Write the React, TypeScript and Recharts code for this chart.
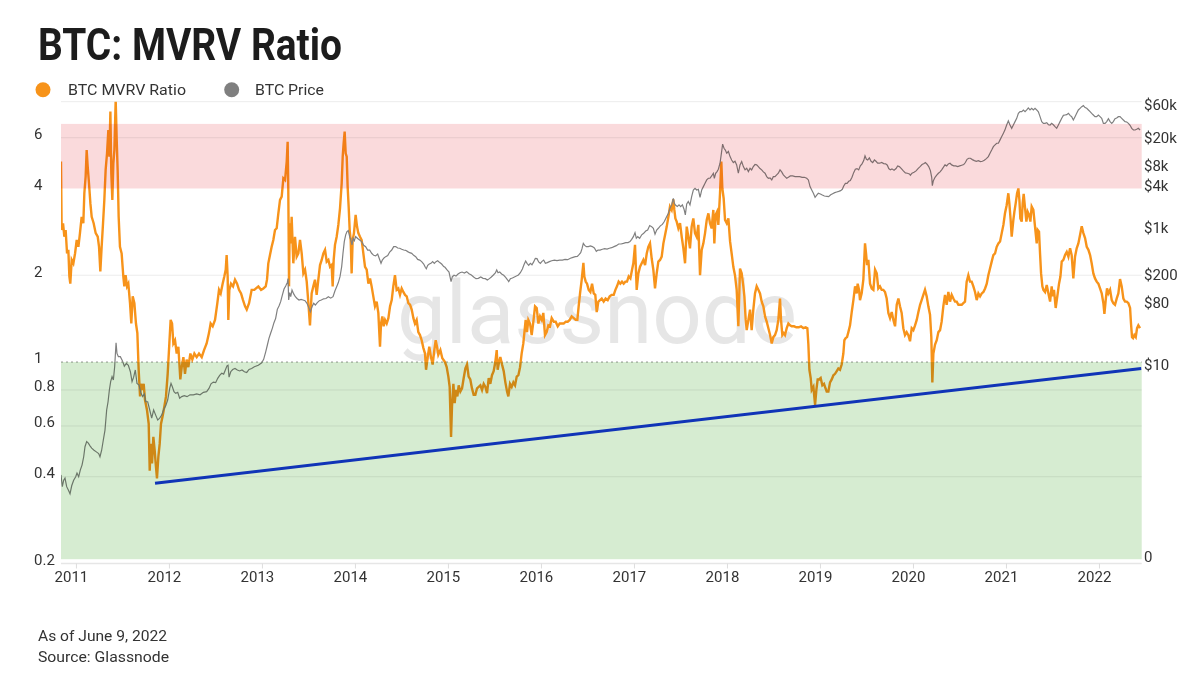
import React from 'react';
import { ComposedChart, Line, XAxis, YAxis, ReferenceArea, ReferenceLine } from 'recharts';

const FONT = 'Roboto, "Open Sans", sans-serif';

const yearTicks = [2011, 2012, 2013, 2014, 2015, 2016, 2017, 2018, 2019, 2020, 2021, 2022];
const ratioTicks = [0.2, 0.4, 0.6, 0.8, 1, 2, 4, 6];
const ratioGrid = [8, 6, 2, 0.8, 0.6, 0.4];
const priceTicks = [0.0161, 10, 80, 200, 1000, 4000, 8000, 20000, 60000];
const priceLabels = ['0', '$10', '$80', '$200', '$1k', '$4k', '$8k', '$20k', '$60k'];

// [year, MVRV]
const mvrvPoints: [number, number][] = [
  [2010.834, 4.96], [2010.841, 2.87], [2010.856, 3.03], [2010.87, 2.72], [2010.884, 2.87], [2010.899, 2.38],
  [2010.913, 2.45], [2010.924, 1.98], [2010.934, 1.87], [2010.949, 2.26], [2010.967, 2.2], [2010.985, 2.38],
  [2011.003, 2.65], [2011.021, 2.51], [2011.038, 2.8], [2011.056, 3.19], [2011.074, 3.03], [2011.085, 3.85],
  [2011.099, 4.4], [2011.11, 5.44], [2011.121, 4.76], [2011.135, 4.17], [2011.15, 3.55], [2011.164, 3.19],
  [2011.185, 3.03], [2011.207, 2.8], [2011.229, 2.72], [2011.243, 2.51], [2011.257, 2.06], [2011.271, 2.51],
  [2011.286, 3.03], [2011.3, 3.65], [2011.314, 4.64], [2011.329, 5.3], [2011.343, 6.38], [2011.354, 5.16],
  [2011.365, 7.39], [2011.375, 4.51], [2011.386, 3.65], [2011.397, 4.89], [2011.408, 5.44], [2011.422, 8.11],
  [2011.433, 5.89], [2011.443, 4.64], [2011.454, 3.19], [2011.468, 2.51], [2011.486, 2.38], [2011.504, 1.98],
  [2011.515, 1.83], [2011.529, 2.0], [2011.544, 1.83], [2011.558, 1.87], [2011.576, 1.6], [2011.59, 1.36],
  [2011.605, 1.69], [2011.623, 1.6], [2011.64, 1.36], [2011.655, 1.26], [2011.669, 0.94], [2011.684, 0.76],
  [2011.694, 0.84], [2011.709, 0.8], [2011.723, 0.84], [2011.737, 0.74], [2011.759, 0.68], [2011.777, 0.61],
  [2011.788, 0.42], [2011.798, 0.52], [2011.813, 0.445], [2011.827, 0.55], [2011.841, 0.495], [2011.852, 0.445],
  [2011.866, 0.395], [2011.881, 0.47], [2011.895, 0.52], [2011.909, 0.61], [2011.927, 0.65], [2011.945, 0.7],
  [2011.963, 0.76], [2011.981, 0.91], [2011.999, 1.16], [2012.013, 1.4], [2012.028, 1.36], [2012.042, 1.16],
  [2012.06, 1.19], [2012.078, 1.07], [2012.096, 1.13], [2012.117, 0.87], [2012.132, 0.96], [2012.15, 1.04],
  [2012.167, 0.91], [2012.185, 1.02], [2012.203, 0.96], [2012.225, 1.07], [2012.246, 1.02], [2012.268, 1.07],
  [2012.293, 1.04], [2012.318, 1.07], [2012.347, 1.04], [2012.372, 1.1], [2012.4, 1.16], [2012.425, 1.26],
  [2012.443, 1.36], [2012.465, 1.33], [2012.49, 1.4], [2012.515, 1.6], [2012.533, 1.78], [2012.551, 1.73],
  [2012.572, 1.87], [2012.59, 1.98], [2012.605, 2.09], [2012.615, 2.35], [2012.626, 1.98], [2012.633, 1.4],
  [2012.644, 1.78], [2012.662, 1.87], [2012.684, 1.83], [2012.705, 1.93], [2012.727, 1.87], [2012.748, 1.78],
  [2012.77, 1.73], [2012.791, 1.64], [2012.813, 1.56], [2012.831, 1.52], [2012.856, 1.6], [2012.884, 1.78],
  [2012.913, 1.78], [2012.956, 1.83], [2012.985, 1.78], [2013.01, 1.8], [2013.035, 1.83], [2013.049, 1.93],
  [2013.063, 2.2], [2013.081, 2.35], [2013.099, 2.51], [2013.117, 2.65], [2013.135, 2.87], [2013.153, 2.91],
  [2013.171, 3.28], [2013.189, 3.65], [2013.207, 3.75], [2013.225, 4.34], [2013.243, 4.28], [2013.261, 4.96],
  [2013.271, 5.81], [2013.278, 3.95], [2013.286, 1.83], [2013.293, 3.03], [2013.304, 2.58], [2013.314, 3.19],
  [2013.332, 2.2], [2013.35, 2.72], [2013.368, 2.32], [2013.386, 2.38], [2013.404, 2.65], [2013.422, 2.38],
  [2013.44, 2.03], [2013.458, 2.09], [2013.476, 1.9], [2013.494, 1.6], [2013.511, 1.34], [2013.529, 1.73],
  [2013.547, 1.83], [2013.565, 1.93], [2013.583, 1.71], [2013.601, 1.93], [2013.619, 2.17], [2013.637, 2.26],
  [2013.655, 2.38], [2013.673, 2.45], [2013.691, 2.23], [2013.709, 2.26], [2013.727, 2.14], [2013.744, 2.17],
  [2013.755, 1.83], [2013.766, 2.26], [2013.78, 2.55], [2013.798, 2.72], [2013.816, 2.99], [2013.834, 3.41],
  [2013.852, 4.17], [2013.863, 5.16], [2013.873, 5.74], [2013.884, 6.3], [2013.895, 5.3], [2013.906, 5.16],
  [2013.916, 4.06], [2013.927, 3.46], [2013.938, 2.87], [2013.949, 2.65], [2013.959, 2.03], [2013.97, 2.65],
  [2013.984, 2.8], [2014.002, 3.24], [2014.017, 2.95], [2014.031, 2.8], [2014.049, 2.72], [2014.067, 2.65],
  [2014.085, 2.38], [2014.103, 2.14], [2014.121, 2.09], [2014.139, 1.87], [2014.157, 1.95], [2014.174, 1.83],
  [2014.192, 1.69], [2014.21, 1.56], [2014.228, 1.62], [2014.246, 1.48], [2014.264, 1.13], [2014.275, 1.36],
  [2014.289, 1.44], [2014.303, 1.33], [2014.318, 1.4], [2014.336, 1.36], [2014.354, 1.42], [2014.372, 1.56],
  [2014.39, 1.64], [2014.407, 1.83], [2014.425, 2.0], [2014.443, 1.78], [2014.461, 1.8], [2014.479, 1.71],
  [2014.497, 1.8], [2014.515, 1.75], [2014.533, 1.71], [2014.551, 1.69], [2014.569, 1.6], [2014.587, 1.58],
  [2014.605, 1.52], [2014.623, 1.42], [2014.64, 1.36], [2014.658, 1.4], [2014.676, 1.27], [2014.694, 1.24],
  [2014.712, 1.19], [2014.73, 1.12], [2014.748, 1.07], [2014.759, 0.94], [2014.777, 1.04], [2014.794, 1.13],
  [2014.812, 1.04], [2014.83, 0.98], [2014.848, 1.1], [2014.863, 1.19], [2014.877, 1.13], [2014.891, 1.06],
  [2014.913, 1.1], [2014.934, 1.03], [2014.963, 1.0], [2014.981, 0.96], [2014.999, 0.89], [2015.013, 0.82],
  [2015.028, 0.55], [2015.038, 0.7], [2015.053, 0.84], [2015.067, 0.72], [2015.081, 0.8], [2015.096, 0.76],
  [2015.11, 0.83], [2015.128, 0.79], [2015.146, 0.81], [2015.164, 0.88], [2015.182, 0.95], [2015.2, 0.98],
  [2015.217, 0.89], [2015.235, 0.87], [2015.253, 0.81], [2015.271, 0.77], [2015.289, 0.77], [2015.307, 0.81],
  [2015.325, 0.82], [2015.343, 0.83], [2015.361, 0.8], [2015.379, 0.84], [2015.397, 0.82], [2015.415, 0.78],
  [2015.433, 0.88], [2015.45, 0.84], [2015.468, 0.9], [2015.486, 0.93], [2015.504, 1.0], [2015.519, 1.1],
  [2015.529, 0.94], [2015.544, 1.0], [2015.558, 1.04], [2015.576, 0.98], [2015.594, 0.93], [2015.612, 0.85],
  [2015.63, 0.79], [2015.644, 0.76], [2015.662, 0.84], [2015.68, 0.82], [2015.698, 0.85], [2015.716, 0.83],
  [2015.734, 0.89], [2015.752, 0.9], [2015.77, 0.96], [2015.787, 1.07], [2015.805, 1.16], [2015.816, 1.26],
  [2015.83, 1.4], [2015.845, 1.27], [2015.859, 1.4], [2015.877, 1.36], [2015.895, 1.24], [2015.913, 1.38],
  [2015.931, 1.56], [2015.949, 1.54], [2015.967, 1.36], [2015.985, 1.44], [2016.003, 1.4], [2016.02, 1.48],
  [2016.038, 1.24], [2016.056, 1.27], [2016.074, 1.34], [2016.092, 1.33], [2016.11, 1.42], [2016.132, 1.38],
  [2016.153, 1.38], [2016.175, 1.33], [2016.196, 1.36], [2016.218, 1.36], [2016.239, 1.36], [2016.261, 1.38],
  [2016.282, 1.38], [2016.304, 1.4], [2016.325, 1.44], [2016.347, 1.42], [2016.368, 1.4], [2016.386, 1.4],
  [2016.4, 1.56], [2016.415, 1.73], [2016.433, 1.93], [2016.451, 2.21], [2016.461, 1.98], [2016.476, 1.9],
  [2016.49, 1.87], [2016.508, 1.78], [2016.526, 1.75], [2016.544, 1.87], [2016.562, 1.73], [2016.579, 1.71],
  [2016.594, 1.49], [2016.612, 1.62], [2016.63, 1.64], [2016.648, 1.66], [2016.669, 1.62], [2016.69, 1.66],
  [2016.712, 1.64], [2016.734, 1.69], [2016.755, 1.71], [2016.777, 1.71], [2016.795, 1.78], [2016.812, 1.83],
  [2016.83, 1.9], [2016.848, 1.87], [2016.866, 1.9], [2016.884, 1.87], [2016.902, 1.9], [2016.92, 1.9],
  [2016.938, 1.98], [2016.956, 1.95], [2016.974, 2.09], [2016.988, 2.2], [2017.006, 2.55], [2017.024, 1.78],
  [2017.042, 2.03], [2017.06, 2.14], [2017.078, 2.2], [2017.096, 2.26], [2017.114, 2.17], [2017.132, 2.38],
  [2017.149, 2.51], [2017.167, 2.58], [2017.185, 2.29], [2017.203, 2.09], [2017.221, 1.8], [2017.239, 2.03],
  [2017.257, 2.23], [2017.275, 2.26], [2017.293, 2.32], [2017.311, 2.58], [2017.329, 2.76], [2017.347, 2.95],
  [2017.365, 3.19], [2017.382, 3.46], [2017.4, 3.37], [2017.418, 3.67], [2017.429, 3.37], [2017.44, 3.15],
  [2017.454, 3.07], [2017.472, 2.91], [2017.49, 3.03], [2017.508, 2.72], [2017.526, 2.48], [2017.544, 2.2],
  [2017.562, 2.95], [2017.579, 2.72], [2017.597, 2.48], [2017.615, 2.95], [2017.633, 3.15], [2017.651, 2.8],
  [2017.669, 2.72], [2017.687, 2.99], [2017.705, 2.0], [2017.723, 2.45], [2017.741, 2.58], [2017.759, 2.8],
  [2017.777, 3.11], [2017.795, 3.28], [2017.812, 3.03], [2017.83, 2.91], [2017.848, 3.37], [2017.859, 2.58],
  [2017.873, 3.24], [2017.888, 3.32], [2017.902, 2.99], [2017.92, 3.85], [2017.934, 4.96], [2017.945, 4.0],
  [2017.959, 3.7], [2017.974, 3.11], [2017.992, 3.03], [2018.01, 3.15], [2018.028, 2.62], [2018.045, 2.38],
  [2018.063, 2.14], [2018.081, 2.0], [2018.099, 1.78], [2018.117, 1.33], [2018.135, 2.11], [2018.153, 2.03],
  [2018.171, 1.83], [2018.182, 1.69], [2018.196, 1.4], [2018.207, 1.29], [2018.225, 1.4], [2018.243, 1.52],
  [2018.26, 1.29], [2018.278, 1.52], [2018.296, 1.73], [2018.314, 1.83], [2018.332, 1.78], [2018.35, 1.73],
  [2018.368, 1.62], [2018.386, 1.56], [2018.404, 1.44], [2018.422, 1.38], [2018.44, 1.31], [2018.458, 1.24],
  [2018.476, 1.16], [2018.493, 1.22], [2018.511, 1.24], [2018.529, 1.29], [2018.547, 1.4], [2018.565, 1.66],
  [2018.576, 1.4], [2018.59, 1.24], [2018.605, 1.26], [2018.619, 1.24], [2018.637, 1.31], [2018.655, 1.36],
  [2018.673, 1.34], [2018.691, 1.33], [2018.716, 1.33], [2018.741, 1.32], [2018.766, 1.32], [2018.791, 1.33],
  [2018.816, 1.31], [2018.841, 1.32], [2018.859, 1.31], [2018.87, 1.15], [2018.881, 0.94], [2018.895, 0.88],
  [2018.906, 0.8], [2018.924, 0.82], [2018.942, 0.71], [2018.956, 0.8], [2018.97, 0.87], [2018.984, 0.87],
  [2019.002, 0.88], [2019.02, 0.83], [2019.038, 0.84], [2019.049, 0.82], [2019.067, 0.79], [2019.085, 0.79],
  [2019.103, 0.85], [2019.121, 0.87], [2019.139, 0.9], [2019.157, 0.91], [2019.175, 0.93], [2019.192, 0.95],
  [2019.21, 0.94], [2019.228, 0.98], [2019.246, 1.07], [2019.257, 1.19], [2019.271, 1.21], [2019.286, 1.22],
  [2019.3, 1.27], [2019.318, 1.34], [2019.336, 1.49], [2019.354, 1.64], [2019.372, 1.83], [2019.39, 1.73],
  [2019.4, 1.87], [2019.415, 1.78], [2019.425, 1.64], [2019.443, 1.73], [2019.461, 1.93], [2019.479, 2.58],
  [2019.49, 2.38], [2019.501, 2.17], [2019.515, 2.26], [2019.533, 1.87], [2019.551, 1.8], [2019.569, 1.78],
  [2019.587, 2.09], [2019.605, 2.03], [2019.622, 1.8], [2019.64, 1.83], [2019.658, 1.78], [2019.676, 1.78],
  [2019.694, 1.75], [2019.712, 1.66], [2019.73, 1.48], [2019.748, 1.42], [2019.766, 1.49], [2019.784, 1.4],
  [2019.802, 1.33], [2019.82, 1.58], [2019.838, 1.66], [2019.855, 1.56], [2019.873, 1.48], [2019.891, 1.31],
  [2019.909, 1.24], [2019.927, 1.27], [2019.945, 1.24], [2019.963, 1.18], [2019.981, 1.31], [2019.999, 1.29],
  [2020.017, 1.34], [2020.035, 1.4], [2020.053, 1.49], [2020.071, 1.58], [2020.088, 1.64], [2020.106, 1.71],
  [2020.124, 1.78], [2020.142, 1.69], [2020.16, 1.56], [2020.178, 1.46], [2020.192, 1.22], [2020.203, 0.85],
  [2020.214, 1.07], [2020.232, 1.15], [2020.25, 1.19], [2020.268, 1.27], [2020.286, 1.29], [2020.303, 1.38],
  [2020.321, 1.56], [2020.339, 1.71], [2020.357, 1.58], [2020.375, 1.75], [2020.393, 1.62], [2020.411, 1.71],
  [2020.429, 1.66], [2020.447, 1.62], [2020.465, 1.62], [2020.483, 1.58], [2020.501, 1.58], [2020.519, 1.58],
  [2020.536, 1.6], [2020.554, 1.62], [2020.572, 1.9], [2020.59, 2.0], [2020.608, 1.9], [2020.626, 1.9],
  [2020.644, 1.83], [2020.662, 1.75], [2020.68, 1.64], [2020.698, 1.73], [2020.716, 1.69], [2020.734, 1.73],
  [2020.752, 1.75], [2020.77, 1.8], [2020.788, 1.87], [2020.805, 2.0], [2020.823, 2.11], [2020.841, 2.23],
  [2020.859, 2.35], [2020.877, 2.38], [2020.895, 2.51], [2020.913, 2.58], [2020.931, 2.62], [2020.949, 2.8],
  [2020.967, 2.99], [2020.984, 3.28], [2021.002, 3.5], [2021.02, 3.85], [2021.031, 3.55], [2021.045, 3.11],
  [2021.056, 2.72], [2021.074, 3.11], [2021.085, 3.32], [2021.099, 3.55], [2021.114, 3.85], [2021.128, 4.0],
  [2021.139, 3.65], [2021.149, 3.15], [2021.164, 3.07], [2021.174, 3.55], [2021.185, 3.83], [2021.2, 3.41],
  [2021.214, 3.07], [2021.228, 3.32], [2021.243, 3.24], [2021.257, 3.07], [2021.271, 3.46], [2021.289, 3.37],
  [2021.307, 2.95], [2021.325, 2.58], [2021.336, 2.87], [2021.35, 2.83], [2021.361, 2.38], [2021.372, 2.03],
  [2021.386, 1.83], [2021.397, 1.78], [2021.415, 1.75], [2021.433, 1.85], [2021.451, 1.73], [2021.469, 1.62],
  [2021.486, 1.83], [2021.497, 1.69], [2021.511, 1.78], [2021.529, 1.54], [2021.551, 1.73], [2021.565, 1.87],
  [2021.58, 1.98], [2021.594, 2.23], [2021.612, 2.26], [2021.63, 2.35], [2021.648, 2.41], [2021.666, 2.32],
  [2021.684, 2.48], [2021.701, 2.35], [2021.719, 1.95], [2021.737, 2.32], [2021.755, 2.48], [2021.773, 2.58],
  [2021.791, 2.76], [2021.809, 2.96], [2021.827, 2.8], [2021.845, 2.69], [2021.863, 2.51], [2021.881, 2.45],
  [2021.899, 2.35], [2021.916, 2.2], [2021.934, 2.03], [2021.952, 1.95], [2021.97, 1.9], [2021.988, 1.87],
  [2022.006, 1.8], [2022.024, 1.73], [2022.042, 1.6], [2022.053, 1.47], [2022.067, 1.64], [2022.081, 1.8],
  [2022.096, 1.73], [2022.114, 1.78], [2022.132, 1.64], [2022.149, 1.6], [2022.167, 1.58], [2022.185, 1.66],
  [2022.203, 1.73], [2022.221, 1.94], [2022.239, 1.83], [2022.257, 1.66], [2022.275, 1.62], [2022.293, 1.62],
  [2022.311, 1.6], [2022.329, 1.54], [2022.339, 1.36], [2022.35, 1.22], [2022.361, 1.21], [2022.375, 1.24],
  [2022.39, 1.22], [2022.404, 1.31], [2022.418, 1.34], [2022.436, 1.31],
];

// [year, BTC price in USD]
const pricePoints: [number, number][] = [
  [2010.834, 0.245], [2010.848, 0.165], [2010.863, 0.205], [2010.877, 0.22], [2010.895, 0.165], [2010.913, 0.148],
  [2010.931, 0.13], [2010.949, 0.17], [2010.97, 0.205], [2010.992, 0.23], [2011.006, 0.26], [2011.024, 0.23],
  [2011.042, 0.29], [2011.06, 0.34], [2011.078, 0.45], [2011.092, 0.63], [2011.11, 0.75], [2011.128, 0.71],
  [2011.146, 0.65], [2011.164, 0.6], [2011.189, 0.56], [2011.214, 0.53], [2011.239, 0.5], [2011.253, 0.45],
  [2011.271, 0.56], [2011.289, 0.79], [2011.307, 1.1], [2011.325, 2.16], [2011.34, 2.85], [2011.354, 4.22],
  [2011.368, 5.6], [2011.383, 6.6], [2011.397, 5.9], [2011.411, 9.2], [2011.426, 20.6], [2011.436, 14.4],
  [2011.451, 12.9], [2011.472, 12.9], [2011.494, 11.3], [2011.515, 9.4], [2011.537, 10.3], [2011.558, 9.7],
  [2011.58, 7.8], [2011.598, 5.6], [2011.615, 6.5], [2011.633, 8.26], [2011.651, 5.28], [2011.673, 5.0],
  [2011.694, 3.78], [2011.712, 3.38], [2011.73, 3.7], [2011.745, 2.85], [2011.766, 2.85], [2011.788, 2.16],
  [2011.809, 1.64], [2011.83, 2.16], [2011.852, 1.82], [2011.874, 1.54], [2011.895, 1.64], [2011.917, 1.82],
  [2011.938, 2.2], [2011.96, 2.5], [2011.981, 3.02], [2012.003, 4.45], [2012.017, 5.28], [2012.031, 4.72],
  [2012.049, 4.0], [2012.067, 3.78], [2012.089, 3.9], [2012.11, 3.2], [2012.132, 3.38], [2012.16, 3.5],
  [2012.189, 3.38], [2012.221, 3.6], [2012.257, 3.58], [2012.293, 3.7], [2012.329, 3.6], [2012.365, 3.9],
  [2012.4, 4.0], [2012.425, 4.45], [2012.447, 5.2], [2012.472, 5.5], [2012.497, 5.4], [2012.519, 6.25],
  [2012.54, 6.9], [2012.562, 7.4], [2012.583, 7.2], [2012.601, 8.26], [2012.619, 9.5], [2012.63, 9.7],
  [2012.641, 6.5], [2012.659, 7.8], [2012.68, 8.4], [2012.705, 8.7], [2012.73, 8.26], [2012.755, 8.0],
  [2012.78, 8.26], [2012.806, 7.8], [2012.831, 7.6], [2012.856, 8.4], [2012.884, 8.7], [2012.913, 9.2],
  [2012.956, 9.7], [2012.992, 10.5], [2013.013, 11.8], [2013.035, 15.2], [2013.053, 19.1], [2013.07, 23.9],
  [2013.088, 28.3], [2013.106, 33.4], [2013.124, 40.4], [2013.142, 46.7], [2013.16, 63.2], [2013.178, 70.6],
  [2013.196, 81.7], [2013.214, 102], [2013.232, 125], [2013.25, 138], [2013.268, 156], [2013.275, 177],
  [2013.282, 86.4], [2013.293, 111], [2013.304, 96.6], [2013.318, 121], [2013.336, 106], [2013.354, 96.6],
  [2013.372, 91], [2013.393, 86.4], [2013.415, 88], [2013.436, 86.4], [2013.458, 84.5], [2013.479, 77.3],
  [2013.497, 67.5], [2013.515, 58.4], [2013.533, 69], [2013.551, 77.3], [2013.569, 73], [2013.59, 79],
  [2013.612, 84.5], [2013.633, 86.4], [2013.658, 90], [2013.683, 91], [2013.709, 96.6], [2013.734, 92],
  [2013.759, 96.6], [2013.78, 118], [2013.798, 135], [2013.816, 155], [2013.834, 189], [2013.852, 265],
  [2013.866, 414], [2013.88, 612], [2013.895, 770], [2013.909, 857], [2013.923, 886], [2013.938, 723],
  [2013.952, 633], [2013.963, 548], [2013.974, 685], [2013.988, 633], [2014.002, 723], [2014.024, 680],
  [2014.045, 646], [2014.067, 612], [2014.088, 540], [2014.11, 518], [2014.131, 462], [2014.153, 462],
  [2014.174, 414], [2014.196, 387], [2014.217, 380], [2014.239, 404], [2014.26, 337], [2014.275, 296],
  [2014.289, 330], [2014.307, 354], [2014.325, 370], [2014.347, 383], [2014.368, 432], [2014.39, 462],
  [2014.411, 518], [2014.433, 518], [2014.454, 494], [2014.476, 490], [2014.497, 474], [2014.519, 462],
  [2014.54, 457], [2014.562, 438], [2014.583, 423], [2014.605, 414], [2014.626, 387], [2014.648, 370],
  [2014.669, 337], [2014.691, 330], [2014.712, 313], [2014.734, 289], [2014.751, 259], [2014.762, 247],
  [2014.777, 276], [2014.794, 289], [2014.812, 296], [2014.83, 313], [2014.848, 296], [2014.866, 313],
  [2014.884, 323], [2014.906, 303], [2014.927, 289], [2014.949, 265], [2014.963, 259], [2014.985, 237],
  [2015.006, 221], [2015.028, 160], [2015.042, 189], [2015.06, 198], [2015.081, 193], [2015.103, 207],
  [2015.124, 216], [2015.146, 221], [2015.171, 214], [2015.196, 224], [2015.221, 209], [2015.246, 200],
  [2015.271, 187], [2015.296, 177], [2015.321, 179], [2015.347, 187], [2015.372, 179], [2015.397, 177],
  [2015.418, 169], [2015.44, 177], [2015.461, 187], [2015.483, 200], [2015.504, 214], [2015.519, 237],
  [2015.533, 216], [2015.551, 221], [2015.572, 207], [2015.594, 198], [2015.615, 185], [2015.637, 169],
  [2015.648, 160], [2015.666, 177], [2015.687, 181], [2015.709, 187], [2015.73, 193], [2015.752, 200],
  [2015.773, 216], [2015.795, 245], [2015.812, 282], [2015.83, 320], [2015.845, 296], [2015.863, 276],
  [2015.88, 296], [2015.898, 282], [2015.916, 310], [2015.934, 350], [2015.952, 346], [2015.97, 310],
  [2015.988, 296], [2016.006, 316], [2016.024, 330], [2016.042, 296], [2016.063, 303], [2016.085, 313],
  [2016.11, 323], [2016.139, 330], [2016.167, 323], [2016.196, 330], [2016.225, 330], [2016.253, 337],
  [2016.282, 334], [2016.311, 350], [2016.339, 361], [2016.364, 370], [2016.386, 374], [2016.404, 395],
  [2016.422, 423], [2016.436, 483], [2016.45, 578], [2016.465, 540], [2016.483, 518], [2016.504, 518],
  [2016.526, 530], [2016.547, 518], [2016.569, 494], [2016.59, 443], [2016.608, 462], [2016.63, 462],
  [2016.655, 474], [2016.68, 483], [2016.705, 478], [2016.73, 490], [2016.755, 500], [2016.78, 518],
  [2016.805, 535], [2016.83, 566], [2016.856, 566], [2016.881, 578], [2016.906, 592], [2016.931, 592],
  [2016.952, 612], [2016.97, 660], [2016.988, 723], [2017.006, 827], [2017.02, 685], [2017.035, 723],
  [2017.056, 685], [2017.078, 770], [2017.099, 810], [2017.121, 875], [2017.142, 905], [2017.164, 1050],
  [2017.185, 1013], [2017.203, 958], [2017.221, 786], [2017.239, 905], [2017.257, 958], [2017.278, 1040],
  [2017.3, 1090], [2017.321, 1200], [2017.343, 1390], [2017.365, 1587], [2017.382, 1877], [2017.4, 2099],
  [2017.418, 2610], [2017.429, 2214], [2017.443, 2075], [2017.461, 1986], [2017.479, 2099], [2017.497, 1986],
  [2017.515, 2099], [2017.533, 1815], [2017.547, 1500], [2017.562, 2165], [2017.579, 2354], [2017.597, 2099],
  [2017.615, 2770], [2017.633, 3460], [2017.651, 3660], [2017.669, 3460], [2017.687, 3530], [2017.705, 2710],
  [2017.723, 3460], [2017.741, 3875], [2017.759, 4330], [2017.777, 4850], [2017.795, 5130], [2017.812, 5130],
  [2017.83, 5540], [2017.848, 6070], [2017.859, 5130], [2017.873, 6070], [2017.888, 6420], [2017.902, 6950],
  [2017.92, 8500], [2017.934, 11600], [2017.948, 16100], [2017.963, 14050], [2017.977, 13200], [2017.992, 11900],
  [2018.01, 12600], [2018.028, 10600], [2018.045, 9480], [2018.063, 8700], [2018.081, 9070], [2018.099, 8030],
  [2018.117, 6070], [2018.135, 8030], [2018.153, 8970], [2018.171, 7590], [2018.189, 6800], [2018.207, 7180],
  [2018.225, 6420], [2018.243, 7180], [2018.26, 6800], [2018.278, 7590], [2018.296, 8130], [2018.314, 8030],
  [2018.332, 7590], [2018.35, 7100], [2018.368, 6800], [2018.386, 6350], [2018.404, 6070], [2018.422, 5420],
  [2018.44, 5130], [2018.458, 5180], [2018.476, 4850], [2018.493, 5420], [2018.511, 5420], [2018.529, 5740],
  [2018.547, 6070], [2018.565, 6800], [2018.583, 6350], [2018.601, 5740], [2018.619, 5420], [2018.637, 5130],
  [2018.655, 5300], [2018.676, 5540], [2018.701, 5540], [2018.727, 5420], [2018.752, 5420], [2018.777, 5420],
  [2018.802, 5300], [2018.827, 5300], [2018.852, 5130], [2018.87, 4850], [2018.888, 3875], [2018.906, 3460],
  [2018.924, 3100], [2018.942, 2710], [2018.96, 2920], [2018.977, 3100], [2018.999, 3030], [2019.02, 2920],
  [2019.042, 2830], [2019.071, 2800], [2019.088, 2770], [2019.11, 2950], [2019.131, 3060], [2019.153, 3170],
  [2019.175, 3240], [2019.196, 3310], [2019.217, 3390], [2019.235, 3540], [2019.25, 3960], [2019.268, 4330],
  [2019.286, 4330], [2019.304, 4630], [2019.321, 4740], [2019.339, 5300], [2019.357, 6200], [2019.375, 6950],
  [2019.393, 7100], [2019.411, 6800], [2019.429, 7770], [2019.447, 8310], [2019.465, 9270], [2019.479, 10850],
  [2019.494, 9690], [2019.508, 9480], [2019.526, 10140], [2019.544, 9070], [2019.562, 8700], [2019.58, 9480],
  [2019.597, 9070], [2019.615, 8500], [2019.637, 8500], [2019.658, 8700], [2019.68, 8400], [2019.701, 8310],
  [2019.719, 7950], [2019.734, 7100], [2019.751, 6800], [2019.769, 7030], [2019.791, 6720], [2019.813, 7100],
  [2019.83, 7770], [2019.848, 7590], [2019.87, 7100], [2019.891, 6570], [2019.913, 6130], [2019.934, 6070],
  [2019.956, 5940], [2019.967, 5680], [2019.984, 6070], [2020.006, 6270], [2020.028, 6570], [2020.049, 7100],
  [2020.071, 7590], [2020.092, 8130], [2020.114, 8400], [2020.128, 8700], [2020.146, 8220], [2020.164, 7590],
  [2020.182, 6640], [2020.196, 5300], [2020.203, 4000], [2020.214, 4740], [2020.232, 5300], [2020.25, 5680],
  [2020.268, 6070], [2020.286, 6350], [2020.303, 6800], [2020.321, 7410], [2020.339, 8030], [2020.357, 7770],
  [2020.375, 8310], [2020.393, 8500], [2020.411, 8030], [2020.433, 7770], [2020.454, 7770], [2020.476, 7590],
  [2020.497, 7770], [2020.519, 7950], [2020.54, 8130], [2020.558, 8700], [2020.576, 9690], [2020.594, 10030],
  [2020.612, 10030], [2020.633, 9590], [2020.655, 9270], [2020.676, 9070], [2020.698, 9270], [2020.719, 8970],
  [2020.741, 9070], [2020.762, 9380], [2020.784, 9920], [2020.805, 10600], [2020.823, 11900], [2020.841, 13200],
  [2020.859, 14800], [2020.877, 15700], [2020.895, 16600], [2020.913, 16600], [2020.931, 18600], [2020.949, 20800],
  [2020.967, 23300], [2020.984, 26000], [2021.002, 30600], [2021.02, 35100], [2021.038, 30600], [2021.056, 27400],
  [2021.074, 30600], [2021.092, 34300], [2021.11, 38300], [2021.128, 45300], [2021.146, 48000], [2021.164, 48000],
  [2021.182, 50700], [2021.2, 48000], [2021.218, 50700], [2021.235, 54200], [2021.253, 50700], [2021.271, 53600],
  [2021.289, 50700], [2021.307, 53600], [2021.325, 50700], [2021.343, 47500], [2021.361, 40500], [2021.379, 34300],
  [2021.397, 32400], [2021.415, 32400], [2021.433, 33100], [2021.451, 30900], [2021.469, 30600], [2021.486, 32400],
  [2021.504, 30900], [2021.522, 29000], [2021.54, 27400], [2021.558, 30600], [2021.576, 34300], [2021.594, 38300],
  [2021.612, 42300], [2021.63, 42800], [2021.648, 43300], [2021.666, 45300], [2021.684, 42300], [2021.701, 40500],
  [2021.719, 36200], [2021.737, 40500], [2021.755, 45300], [2021.773, 50700], [2021.791, 53600], [2021.809, 56600],
  [2021.827, 58600], [2021.845, 55000], [2021.863, 53600], [2021.881, 50700], [2021.899, 48000], [2021.916, 45300],
  [2021.934, 42800], [2021.952, 40500], [2021.97, 40500], [2021.988, 42800], [2022.006, 40500], [2022.024, 38300],
  [2022.042, 32400], [2022.06, 32400], [2022.078, 34300], [2022.096, 37900], [2022.114, 34300], [2022.132, 32400],
  [2022.149, 34300], [2022.167, 37900], [2022.185, 38700], [2022.203, 40500], [2022.221, 40500], [2022.239, 38300],
  [2022.257, 36200], [2022.275, 34300], [2022.293, 33900], [2022.311, 32400], [2022.329, 30300], [2022.347, 27400],
  [2022.365, 25900], [2022.383, 25900], [2022.4, 26500], [2022.418, 27400], [2022.436, 25900],
];

// rising floor trendline through the cycle lows
const supportLine: [number, number][] = [
  [2011.845, 0.38],
  [2022.45, 0.95],
];

const toRows = (pts: [number, number][]) => pts.map(([t, v]) => ({ t, v }));

const YearTick = (props: any) => {
  const { x, y, payload } = props;
  return (
    <text x={x - 5} y={y + 11.5} textAnchor="middle" fontSize={15} fill="#333" fontFamily={FONT}>
      {payload.value}
    </text>
  );
};

const RatioTick = (props: any) => {
  const { y, payload } = props;
  return (
    <text x={34} y={y + 1.3} textAnchor="start" fontSize={15} fill="#333" fontFamily={FONT}>
      {payload.value}
    </text>
  );
};

const PriceTick = (props: any) => {
  const { y, payload } = props;
  const i = priceTicks.indexOf(payload.value);
  return (
    <text x={1144} y={y + 5.5} textAnchor="start" fontSize={15} fill="#333" fontFamily={FONT}>
      {priceLabels[i]}
    </text>
  );
};

const bandShape = (fill: string) => (p: any) => (
  <rect x={p.x} y={p.y} width={p.width} height={p.height} fill={fill} style={{ mixBlendMode: 'multiply' }} />
);

export default function App() {
  return (
    <div style={{ position: 'absolute', left: 0, top: 0, width: 1200, height: 696, background: '#fff' }}>
      <svg width={1200} height={696} style={{ position: 'absolute', left: 0, top: 0 }}>
        <text x={38} y={60} fontSize={44} fontWeight={700} fill="#1c1c1c" fontFamily={FONT} textLength={304} lengthAdjust="spacingAndGlyphs">
          BTC: MVRV Ratio
        </text>
        <circle cx={43} cy={89.7} r={7.5} fill="#F7931A" />
        <text x={68} y={95} fontSize={15} fill="#333" fontFamily={FONT} textLength={118} lengthAdjust="spacingAndGlyphs">
          BTC MVRV Ratio
        </text>
        <circle cx={231.7} cy={89.7} r={7.5} fill="#7f7f7f" />
        <text x={255} y={95} fontSize={15} fill="#333" fontFamily={FONT} textLength={69} lengthAdjust="spacingAndGlyphs">
          BTC Price
        </text>
        <text x={597} y={343} textAnchor="middle" fontSize={87} fill="#e6e6e6" fontFamily={FONT}>
          glassnode
        </text>
        <text x={38} y={641} fontSize={15} fill="#333" fontFamily={FONT} textLength={129} lengthAdjust="spacingAndGlyphs">
          As of June 9, 2022
        </text>
        <text x={38} y={662} fontSize={15} fill="#333" fontFamily={FONT} textLength={131} lengthAdjust="spacingAndGlyphs">
          Source: Glassnode
        </text>
      </svg>
      <div style={{ position: 'absolute', left: 0, top: 0 }}>
        <ComposedChart width={1200} height={600} margin={{ top: 101.7, right: 8.3, bottom: 6.5, left: 11 }}>
          <XAxis
            dataKey="t"
            type="number"
            domain={[2010.834, 2022.454]}
            allowDataOverflow
            ticks={yearTicks}
            interval={0}
            height={30}
            tick={YearTick}
            tickSize={5}
            tickLine={{ stroke: '#dddddd' }}
            axisLine={{ stroke: '#e6e6e6', strokeWidth: 1.5 }}
          />
          <YAxis
            yAxisId="ratio"
            type="number"
            scale="log"
            domain={[0.2, 8]}
            allowDataOverflow
            ticks={ratioTicks}
            interval={0}
            width={50}
            axisLine={false}
            tickLine={false}
            tick={RatioTick}
          />
          <YAxis
            yAxisId="price"
            orientation="right"
            type="number"
            scale="log"
            domain={[0.01254, 66900]}
            allowDataOverflow
            ticks={priceTicks}
            interval={0}
            width={50}
            axisLine={false}
            tickLine={false}
            tick={PriceTick}
          />
          {ratioGrid.map((v) => (
            <ReferenceLine key={v} yAxisId="ratio" y={v} stroke="#ececec" strokeWidth={1} />
          ))}
          <ReferenceLine yAxisId="ratio" y={1} stroke="#999" strokeDasharray="2 3" />
          <Line
            data={toRows(mvrvPoints)}
            yAxisId="ratio"
            dataKey="v"
            type="linear"
            stroke="#F7931A"
            strokeWidth={2.4}
            dot={false}
            isAnimationActive={false}
          />
          <Line
            data={toRows(pricePoints)}
            yAxisId="price"
            dataKey="v"
            type="linear"
            stroke="#808080"
            strokeWidth={1.2}
            dot={false}
            isAnimationActive={false}
          />
          <Line
            data={toRows(supportLine)}
            yAxisId="ratio"
            dataKey="v"
            type="linear"
            stroke="#1238e0"
            strokeWidth={3}
            dot={false}
            isAnimationActive={false}
          />
          <ReferenceArea yAxisId="ratio" y1={4} y2={6.7} shape={bandShape('#fadadc')} zIndex={600} />
          <ReferenceArea yAxisId="ratio" y1={0.207} y2={1} shape={bandShape('#d6ecd1')} zIndex={600} />
        </ComposedChart>
      </div>
    </div>
  );
}
